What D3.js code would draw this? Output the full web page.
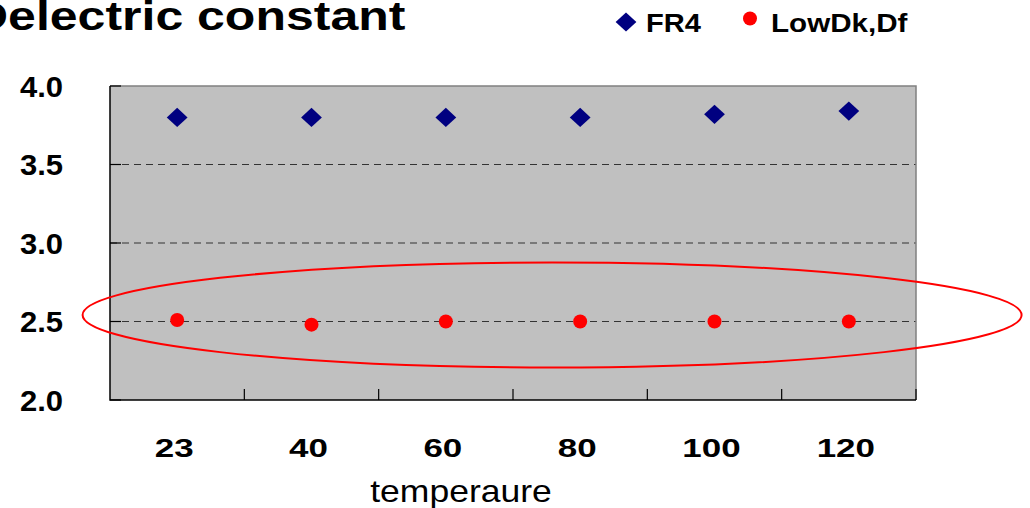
<!DOCTYPE html>
<html>
<head>
<meta charset="utf-8">
<script src="https://cdn.jsdelivr.net/npm/d3@7"></script>
<style>
  html, body { margin: 0; padding: 0; background: #fff; }
  text { font-family: "Liberation Sans", Arial, sans-serif; }
</style>
</head>
<body>
<div id="main"></div>
<script>
!(function () {
  'use strict';

  // data
  const temperatures = ['23', '40', '60', '80', '100', '120'];
  const fr4 = [3.80, 3.80, 3.80, 3.80, 3.82, 3.84];
  const lowDk = [2.51, 2.48, 2.50, 2.50, 2.50, 2.50];
  const yTicks = [2.0, 2.5, 3.0, 3.5, 4.0];
  const seriesNames = ['FR4', 'LowDk,Df'];
  const titleText = 'Delectric constant';
  const xTitle = 'temperaure';
  // highlight ellipse: x as fraction of plot width, y in data units
  const ringX = [-0.034, 1.131];
  const ringY = [2.207, 2.876];

  // configuration
  const canvas = {
    width: 1030,
    height: 508,
    padding: { top: 86, right: 114, bottom: 108, left: 110 }
  };
  const plotW = canvas.width - canvas.padding.left - canvas.padding.right;
  const plotH = canvas.height - canvas.padding.top - canvas.padding.bottom;

  const svg = d3.select('#main').append('svg')
    .attr('width', canvas.width)
    .attr('height', canvas.height);

  const xScale = d3.scaleBand()
    .domain(temperatures)
    .range([canvas.padding.left, canvas.padding.left + plotW]);
  const yScale = d3.scaleLinear()
    .domain([2.0, 4.0])
    .range([canvas.padding.top + plotH, canvas.padding.top]);
  const fracScale = d3.scaleLinear()
    .domain([0, 1])
    .range([canvas.padding.left, canvas.padding.left + plotW]);

  const x0 = canvas.padding.left, x1 = x0 + plotW;
  const yTop = canvas.padding.top, yBot = yTop + plotH;

  // plot background
  svg.append('rect')
    .attr('x', x0).attr('y', yTop)
    .attr('width', plotW).attr('height', plotH)
    .attr('fill', '#c0c0c0');

  // grid lines
  svg.append('g').selectAll('line')
    .data(yTicks.filter(d => d > 2.0 && d < 4.0))
    .join('line')
    .attr('x1', x0).attr('x2', x1)
    .attr('y1', d => yScale(d)).attr('y2', d => yScale(d))
    .attr('stroke', '#333')
    .attr('stroke-width', 1)
    .attr('stroke-dasharray', '7,5');

  // top / right border
  svg.append('path')
    .attr('d', `M${x0},${yTop}H${x1}V${yBot}`)
    .attr('fill', 'none')
    .attr('stroke', '#808080')
    .attr('stroke-width', 1.5);

  // axes
  svg.append('path')
    .attr('d', `M${x0},${yTop}V${yBot}H${x1}`)
    .attr('fill', 'none')
    .attr('stroke', '#000')
    .attr('stroke-width', 1.5);

  // inner ticks on x axis (band boundaries)
  const bounds = temperatures.map(t => xScale(t) + xScale.bandwidth()).concat([]);
  svg.append('g').selectAll('line')
    .data(bounds)
    .join('line')
    .attr('x1', d => d).attr('x2', d => d)
    .attr('y1', yBot).attr('y2', yBot - 11)
    .attr('stroke', '#000').attr('stroke-width', 1.2);

  // inner ticks on y axis
  svg.append('g').selectAll('line')
    .data(yTicks)
    .join('line')
    .attr('x1', x0).attr('x2', x0 + 11)
    .attr('y1', d => yScale(d)).attr('y2', d => yScale(d))
    .attr('stroke', '#000').attr('stroke-width', 1.2);

  // y labels
  svg.append('g').selectAll('text')
    .data(yTicks)
    .join('text')
    .attr('transform', d => `translate(63,${yScale(d) + 10.5}) scale(1.07,1)`)
    .attr('text-anchor', 'end')
    .attr('font-size', 29)
    .attr('font-weight', 'bold')
    .text(d3.format('.1f'));

  // x labels
  svg.append('g').selectAll('text')
    .data(temperatures)
    .join('text')
    .attr('transform', d => `translate(${xScale(d) + xScale.bandwidth() / 2 - 3},${yBot + 57}) scale(1.37,1)`)
    .attr('text-anchor', 'middle')
    .attr('font-size', 25.5)
    .attr('font-weight', 'bold')
    .text(d => d);

  // x title
  svg.append('text')
    .attr('transform', `translate(461,${yBot + 101.5}) scale(1.11,1)`)
    .attr('text-anchor', 'middle')
    .attr('font-size', 32)
    .text(xTitle);

  // chart title
  svg.append('text')
    .attr('transform', 'translate(-28,30) scale(1.25,1)')
    .attr('font-size', 40)
    .attr('font-weight', 'bold')
    .text(titleText);

  // FR4 markers
  const diamond = d3.symbol(d3.symbolSquare, 185);
  svg.append('g').selectAll('path')
    .data(fr4)
    .join('path')
    .attr('d', diamond)
    .attr('transform', (d, i) => `translate(${xScale(temperatures[i]) + xScale.bandwidth() / 2},${yScale(d)}) scale(1.08,1) rotate(45)`)
    .attr('fill', '#000080');

  // LowDk markers
  svg.append('g').selectAll('circle')
    .data(lowDk)
    .join('circle')
    .attr('cx', (d, i) => xScale(temperatures[i]) + xScale.bandwidth() / 2)
    .attr('cy', d => yScale(d))
    .attr('r', 7)
    .attr('fill', '#ff0000');

  // highlight ellipse
  svg.append('ellipse')
    .attr('cx', (fracScale(ringX[0]) + fracScale(ringX[1])) / 2)
    .attr('cy', (yScale(ringY[0]) + yScale(ringY[1])) / 2)
    .attr('rx', (fracScale(ringX[1]) - fracScale(ringX[0])) / 2)
    .attr('ry', (yScale(ringY[0]) - yScale(ringY[1])) / 2)
    .attr('fill', 'none')
    .attr('stroke', '#ff0000')
    .attr('stroke-width', 2);

  // legend
  const legend = svg.append('g');
  legend.append('path')
    .attr('d', d3.symbol(d3.symbolSquare, 185))
    .attr('transform', 'translate(626,22) scale(1.08,1) rotate(45)')
    .attr('fill', '#000080');
  legend.append('text')
    .attr('transform', 'translate(646,31.5) scale(1.14,1)')
    .attr('font-size', 25.5)
    .attr('font-weight', 'bold')
    .text(seriesNames[0]);
  legend.append('circle')
    .attr('cx', 750).attr('cy', 18.5).attr('r', 7)
    .attr('fill', '#ff0000');
  legend.append('text')
    .attr('transform', 'translate(771,31.5) scale(1.16,1)')
    .attr('font-size', 25.5)
    .attr('font-weight', 'bold')
    .text(seriesNames[1]);
}());
</script>
</body>
</html>
